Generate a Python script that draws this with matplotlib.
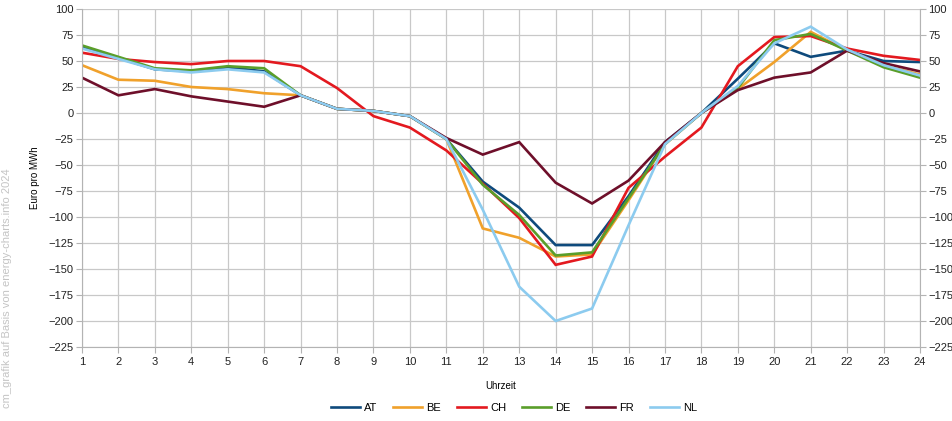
import matplotlib
matplotlib.use("Agg")
import matplotlib.pyplot as plt
from matplotlib import font_manager

hours = list(range(1, 25))
countries = ["AT", "BE", "CH", "DE", "FR", "NL"]
colors = ["#0e4a7c", "#f0a12b", "#e3191f", "#5a9e2a", "#6e0f2a", "#8ccbef"]

at = [63, 53, 42, 40, 44, 40, 17, 4, 2, -3, -25, -66, -91, -127, -127, -80, -28, 0, 33, 67, 54, 60, 50, 49]
be = [46, 32, 31, 25, 23, 19, 17, 4, 2, -3, -25, -111, -120, -138, -136, -84, -30, 0, 23, 49, 78, 60, 46, 37]
ch = [58, 52, 49, 47, 50, 50, 45, 24, -3, -14, -36, -68, -101, -146, -138, -72, -42, -14, 45, 73, 74, 62, 55, 51]
de = [65, 54, 43, 41, 45, 43, 17, 4, 2, -3, -25, -69, -98, -137, -134, -82, -30, 0, 24, 70, 76, 60, 44, 34]
fr = [34, 17, 23, 16, 11, 6, 17, 4, 2, -3, -24, -40, -28, -67, -87, -65, -28, 0, 22, 34, 39, 60, 48, 40]
nl = [62, 52, 42, 39, 42, 39, 17, 4, 2, -3, -25, -93, -167, -200, -188, -108, -30, 0, 26, 67, 83, 61, 46, 36]
series = [at, be, ch, de, fr, nl]

yticks = list(range(-225, 101, 25))

# condensed font if available
names = {f.name for f in font_manager.fontManager.ttflist}
if "Liberation Sans Narrow" in names:
    plt.rcParams["font.family"] = ["Liberation Sans Narrow", "DejaVu Sans"]
    fs = 9
else:
    plt.rcParams["font.family"] = ["Liberation Sans", "DejaVu Sans"]
    fs = 8

fig = plt.figure(figsize=(9.52, 4.21), dpi=100)
ax = fig.add_axes([0.0861, 0.1758, 0.8803, 0.8028])

for name, vals, c in zip(countries, series, colors):
    ax.plot(hours, vals, color=c, lw=1.9, label=name, solid_joinstyle="miter")

ax.set_xlim(1, 24)
ax.set_ylim(-225, 100)
ax.set_xticks(hours)
ax.set_yticks(yticks)
ax.grid(True, color="#c8c8c8", lw=0.9)
ax.set_axisbelow(True)
for s in ax.spines.values():
    s.set_color("#b3b3b3")
ax.spines["top"].set_visible(False)
ax.tick_params(axis="both", colors="#b3b3b3", labelcolor="#222222", labelsize=fs, length=4)
ax.tick_params(axis="y", right=True, labelright=True, pad=2)
ax.tick_params(axis="x", pad=3)
ax.set_xlabel("Uhrzeit", fontsize=fs - 1, labelpad=10)
ax.set_ylabel("Euro pro MWh", fontsize=fs - 1, labelpad=6)

fig.legend(loc="center", bbox_to_anchor=(0.54, 0.03), ncol=6, frameon=False,
           fontsize=fs, handlelength=2.6, columnspacing=1.4, handletextpad=0.4)

fig.text(0.002, 0.6, "cm_grafik auf Basis von energy-charts.info 2024", rotation=90,
         va="top", ha="left", fontsize=8, color="#c4c4c4")

fig.savefig("out.png", dpi=100)
